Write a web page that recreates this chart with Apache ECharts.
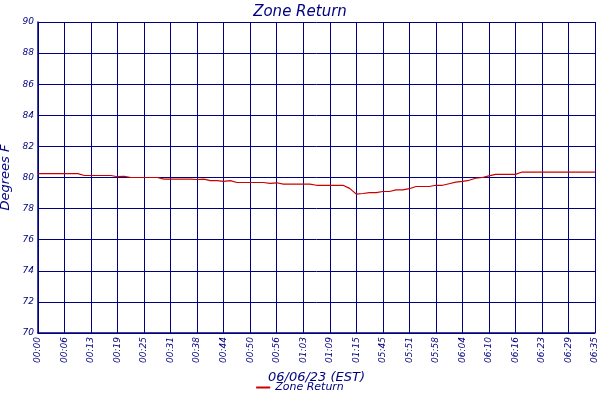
<!DOCTYPE html><html><head><meta charset="utf-8"><script src="https://cdn.jsdelivr.net/npm/echarts@6/dist/echarts.min.js"></script></head><body style="margin:0"><div id="c" style="width:600px;height:400px"></div><script>
const tickLabels=['00:00','00:06','00:13','00:19','00:25','00:31','00:38','00:44','00:50','00:56','01:03','01:09','01:15','05:45','05:51','05:58','06:04','06:10','06:16','06:23','06:29','06:35'];
const zoneReturn=[80.25,80.25,80.25,80.25,80.25,80.25,80.25,80.13,80.13,80.13,80.13,80.13,80.05,80.08,80,80,80,80,80,79.9,79.9,79.9,79.9,79.9,79.87,79.9,79.8,79.8,79.75,79.8,79.68,79.68,79.68,79.68,79.68,79.62,79.66,79.57,79.57,79.57,79.57,79.57,79.5,79.5,79.5,79.5,79.5,79.3,78.93,78.97,79.03,79.03,79.1,79.1,79.2,79.2,79.28,79.42,79.42,79.42,79.5,79.5,79.6,79.7,79.75,79.82,79.95,80,80.1,80.2,80.2,80.2,80.2,80.35,80.35,80.35,80.35,80.35,80.35,80.35,80.35,80.35,80.35,80.35,80.35];
const cats=zoneReturn.map((v,i)=>i%4===0?tickLabels[i/4]:'t'+i);
const navy='#000080',font='DejaVu Sans';
echarts.init(document.getElementById('c')).setOption({
animation:false,
title:{text:'Zone Return',left:'center',top:0,textStyle:{color:navy,fontFamily:font,fontStyle:'italic',fontWeight:'normal',fontSize:15}},
grid:{left:38,right:5,top:22,bottom:67,containLabel:false,outerBoundsMode:'none'},
legend:{bottom:2,left:'center',itemWidth:14,itemHeight:2,icon:'rect',textStyle:{color:navy,fontFamily:font,fontStyle:'italic',fontSize:11},data:['Zone Return']},
xAxis:{type:'category',data:cats,boundaryGap:false,name:'06/06/23 (EST)',nameLocation:'middle',nameGap:38,nameTextStyle:{color:navy,fontFamily:font,fontStyle:'italic',fontSize:13},
axisLine:{lineStyle:{color:navy,width:1.5}},axisTick:{show:false},
axisLabel:{interval:3,rotate:90,color:navy,fontFamily:font,fontStyle:'italic',fontSize:9,margin:4,formatter:v=>v.startsWith('t')?'':v},
splitLine:{show:true,interval:3,lineStyle:{color:navy,width:1}}},
yAxis:{type:'value',min:70,max:90,interval:2,name:'Degrees F',nameLocation:'middle',nameGap:22,nameTextStyle:{color:navy,fontFamily:font,fontStyle:'italic',fontSize:13},
axisLine:{show:true,lineStyle:{color:navy,width:1.5}},axisTick:{show:false},
axisLabel:{color:navy,fontFamily:font,fontStyle:'italic',fontSize:9,margin:4},
splitLine:{lineStyle:{color:navy,width:1}}},
series:[{name:'Zone Return',type:'line',data:zoneReturn,showSymbol:false,lineStyle:{color:'#cc0000',width:1.2},itemStyle:{color:'#cc0000'}}]
});
</script></body></html>
